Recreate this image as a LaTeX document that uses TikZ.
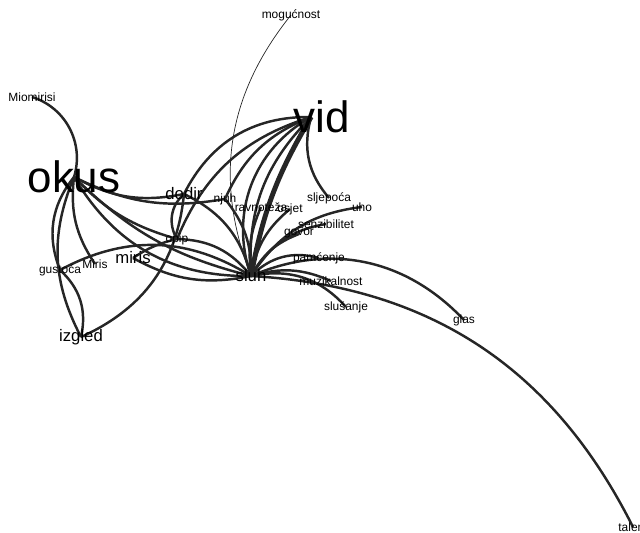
\documentclass[tikz,border=0pt]{standalone}
\usepackage{fontspec}
\setmainfont{Liberation Sans}
\usepackage{xcolor}
\usepackage{tikz}
\usetikzlibrary{backgrounds}

\begin{document}
\begin{tikzpicture}[x=0.02cm, y=0.02cm, every node/.style={inner sep=0pt, text=black}]
      % Styles
      \tikzset{
        term/.style={font=\fontsize{6.8}{7}\selectfont},
        midterm/.style={font=\fontsize{9.5}{10}\selectfont},
        bigterm/.style={font=\fontsize{25}{26}\selectfont},
        link/.style={draw=black!85, line width=1.4pt},
        heavylink/.style={link, line width=2.8pt},
        thinlink/.style={link, line width=0.4pt}
      }
      \useasboundingbox (0,0) rectangle (640,-532);

      % Nodes
      \node (mogucnost) [term] at (291,-15) {mogućnost};
      \node (vid) [bigterm] at (322,-117) {vid};
      \node (miomirisi) [term] at (32,-97) {Miomirisi};
      \node (okus) [bigterm] at (74,-177) {okus};
      \node (dodir) [midterm] at (184,-194) {dodir};
      \node (njuh) [term] at (225,-199) {njuh};
      \node (ravnoteza) [term] at (261,-207) {ravnoteža};
      \node (osjet) [term] at (290,-209) {osjet};
      \node (sljepoca) [term] at (329,-198) {sljepoća};
      \node (uho) [term] at (362,-207) {uho};
      \node (senzibilitet) [term] at (326,-224) {senzibilitet};
      \node (govor) [term] at (299,-234) {govor};
      \node (opip) [term] at (177,-239) {opip};
      \node (miris) [midterm] at (133,-258) {miris};
      \node (miris2) [term] at (95,-264) {Miris};
      \node (gustoca) [term] at (60,-270) {gustoća};
      \node (sluh) [midterm] at (251,-276) {sluh};
      \node (pamcenje) [term] at (319,-258) {pamćenje};
      \node (muzikalnost) [term] at (331,-281) {muzikalnost};
      \node (slusanje) [term] at (346,-307) {slušanje};
      \node (glas) [term] at (464,-320) {glas};
      \node (izgled) [midterm] at (81,-337) {izgled};
      \node (talent) [term] at (633,-527) {talent};

      % Links
      \begin{scope}[on background layer]
      \draw [thinlink] (sluh.center) to[bend left=30] (mogucnost.center);
      \draw [heavylink] (sluh.center) to[bend left=10] ([xshift=10]vid.west);
      \draw [link] (sluh.center) to[bend left=24] ([xshift=10]vid.west);
      \draw [link] (sluh.center) to[bend left=40] ([xshift=10]vid.west);
      \draw [link] ([xshift=10]vid.west) to[bend right=28] (sljepoca.center);
      \draw [link] ([xshift=10]vid.west) to[bend right=32] (dodir.center);
      \draw [link] ([xshift=10]vid.west) to[bend right=22] (njuh.center);
      \draw [link] ([xshift=10]vid.west) to[bend right=25] (opip.center);

      \draw [link] (sluh.center) to[bend left=25] (uho.center);
      \draw [link] (sluh.center) to[bend left=25] (senzibilitet.center);
      \draw [link] (sluh.center) to[bend left=20] (govor.center);
      \draw [link] (sluh.center) to[bend left=20] (osjet.center);
      \draw [link] (sluh.center) to[bend left=15] (ravnoteza.center);
      \draw [link] (sluh.center) to[bend right=20] (njuh.center);
      \draw [link] (sluh.center) to[bend right=25] (dodir.center);
      \draw [link] (sluh.center) to[bend right=25] (opip.center);
      \draw [link] (sluh.center) to[bend left=20] (miris.center);
      \draw [link] (sluh.center) to[bend left=30] (pamcenje.center);
      \draw [link] (sluh.center) to[bend left=35] (glas.center);
      \draw [link] (sluh.center) to[bend left=30] (talent.center);
      \draw [link] (sluh.center) to[bend left=20] (muzikalnost.center);
      \draw [link] (sluh.center) to[bend left=30] (slusanje.center);

      \draw [link] (okus.center) to[bend right=15] (sluh.center);
      \draw [link] (okus.center) to[bend right=30] (sluh.center);
      \draw [link] (okus.center) to[bend right=20] (dodir.center);
      \draw [link] (okus.center) to[bend right=18] (njuh.center);
      \draw [link] (okus.center) to[bend right=15] (opip.center);
      \draw [link] (okus.center) to[bend right=45] (miomirisi.center);
      \draw [link] (okus.center) to[bend right=20] (miris2.center);
      \draw [link] (okus.center) to[bend right=30] (gustoca.center);
      \draw [link] (okus.center) to[bend right=25] (izgled.center);

      \draw [link] (gustoca.center) to[bend left=30] (izgled.center);
      \draw [link] (gustoca.center) to[bend left=30] (sluh.center);
      \draw [link] (miris.center) to[bend left=10] (opip.center);
      \draw [link] (izgled.center) to[bend right=30] (dodir.center);
      \draw [link] (dodir.center) to[bend right=40] (opip.center);
      \end{scope}
\end{tikzpicture}
\end{document}
